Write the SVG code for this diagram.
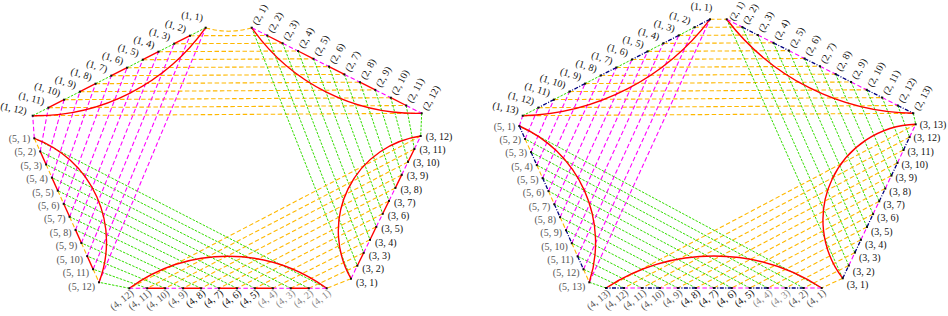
<svg xmlns="http://www.w3.org/2000/svg" width="948" height="316" viewBox="0 0 948 316">
<style>
.o{fill:none;stroke:#ffb800;stroke-width:1.1;stroke-dasharray:4.5 2.5}
.g{fill:none;stroke:#33dd00;stroke-width:1;stroke-dasharray:2.5 1.3}
.m{fill:none;stroke:#ff00ff;stroke-width:1.1;stroke-dasharray:4.5 2.5}
.r{fill:none;stroke:#ff0000;stroke-width:1.4}
.n{fill:none;stroke:#000080;stroke-width:1.3;stroke-dasharray:4 1.5 1 1.5}
text{font-family:"Liberation Serif","DejaVu Serif",serif;font-size:10px;fill:#111}
.e{text-anchor:end}
.gy{fill:#555}
.lg{fill:#8a8a8a}
</style>
<defs><rect id="p" x="-1" y="-1" width="2" height="2" fill="#111"/></defs>

<g id="left-figure">
<g id="left-connectors">
<path class="o" d="M205.7 27.7Q228.7 34.7 251.7 27.7M190.0 35.7L267.2 35.5M174.2 43.7L282.6 43.3M158.5 51.7L298.1 51.0M142.8 59.7L313.5 58.8M127.1 67.7L329.0 66.6M111.3 75.7L344.4 74.4M95.6 83.7L359.9 82.2M79.9 91.7L375.3 89.9M64.1 99.7L390.8 97.7M48.4 107.7L406.2 105.5M32.7 115.7L421.7 113.3"/>
<path class="g" d="M251.7 27.7L351.0 278.7M267.2 35.5L357.3 265.7M282.6 43.3L363.7 252.8M298.1 51.0L370.0 239.8M313.5 58.8L376.3 226.8M329.0 66.6L382.7 213.8M344.4 74.4L389.0 200.9M359.9 82.2L395.4 187.9M375.3 89.9L401.7 174.9M390.8 97.7L408.0 161.9M406.2 105.5L414.4 149.0M421.7 113.3L420.7 136.0"/>
<path class="o" d="M351.0 278.7L326.7 288.3M357.3 265.7L308.8 288.3M363.7 252.8L290.8 288.3M370.0 239.8L272.9 288.3M376.3 226.8L254.9 288.3M382.7 213.8L237.0 288.3M389.0 200.9L219.0 288.3M395.4 187.9L201.1 288.3M401.7 174.9L183.1 288.3M408.0 161.9L165.2 288.3M414.4 149.0L147.2 288.3M420.7 136.0L129.3 288.3"/>
<path class="g" d="M326.7 288.3L34.3 138.3M308.8 288.3L40.2 151.4M290.8 288.3L46.1 164.5M272.9 288.3L51.9 177.6M254.9 288.3L57.8 190.7M237.0 288.3L63.7 203.8M219.0 288.3L69.6 216.8M201.1 288.3L75.5 229.9M183.1 288.3L81.4 243.0M165.2 288.3L87.2 256.1M147.2 288.3L93.1 269.2M129.3 288.3L99.0 282.3"/>
<path class="m" d="M34.3 138.3L32.7 115.7M40.2 151.4L48.4 107.7M46.1 164.5L64.1 99.7M51.9 177.6L79.9 91.7M57.8 190.7L95.6 83.7M63.7 203.8L111.3 75.7M69.6 216.8L127.1 67.7M75.5 229.9L142.8 59.7M81.4 243.0L158.5 51.7M87.2 256.1L174.2 43.7M93.1 269.2L190.0 35.7M99.0 282.3L205.7 27.7"/>
<path class="r" d="M205.7 27.7A208.2 208.2 0 0 1 32.7 115.7"/>
<path class="r" d="M251.7 27.7A200.8 200.8 0 0 0 421.7 113.3"/>
<path class="r" d="M351.0 278.7A96 96 0 0 1 420.7 136.0"/>
<path class="r" d="M326.7 288.3A168.2 168.2 0 0 0 129.3 288.3"/>
<path class="r" d="M34.3 138.3A110.8 110.8 0 0 1 99.0 282.3"/>
</g>

<g id="left-side-1">
<path class="g" d="M205.7 27.7L190.0 35.7M174.2 43.7L158.5 51.7M142.8 59.7L127.1 67.7M111.3 75.7L95.6 83.7M79.9 91.7L64.1 99.7M48.4 107.7L32.7 115.7"/>
<path class="r" d="M190.0 35.7L174.2 43.7M158.5 51.7L142.8 59.7M127.1 67.7L111.3 75.7M95.6 83.7L79.9 91.7M64.1 99.7L48.4 107.7"/>
<use href="#p" x="205.7" y="27.7"/><use href="#p" x="190.0" y="35.7"/><use href="#p" x="174.2" y="43.7"/><use href="#p" x="158.5" y="51.7"/><use href="#p" x="142.8" y="59.7"/><use href="#p" x="127.1" y="67.7"/><use href="#p" x="111.3" y="75.7"/><use href="#p" x="95.6" y="83.7"/><use href="#p" x="79.9" y="91.7"/><use href="#p" x="64.1" y="99.7"/><use href="#p" x="48.4" y="107.7"/><use href="#p" x="32.7" y="115.7"/>
<text class="e" x="202.5" y="21.0" transform="rotate(8 202.5 21.0)">(1, 1)</text>
<text class="e" x="185.0" y="32.7" transform="rotate(18 185.0 32.7)">(1, 2)</text>
<text class="e" x="169.2" y="40.7" transform="rotate(18 169.2 40.7)">(1, 3)</text>
<text class="e" x="153.5" y="48.7" transform="rotate(18 153.5 48.7)">(1, 4)</text>
<text class="e" x="137.8" y="56.7" transform="rotate(18 137.8 56.7)">(1, 5)</text>
<text class="e" x="122.1" y="64.7" transform="rotate(18 122.1 64.7)">(1, 6)</text>
<text class="e" x="106.3" y="72.7" transform="rotate(18 106.3 72.7)">(1, 7)</text>
<text class="e" x="90.6" y="80.7" transform="rotate(18 90.6 80.7)">(1, 8)</text>
<text class="e" x="74.9" y="88.7" transform="rotate(18 74.9 88.7)">(1, 9)</text>
<text class="e" x="59.1" y="96.7" transform="rotate(18 59.1 96.7)">(1, 10)</text>
<text class="e" x="43.4" y="104.7" transform="rotate(14 43.4 104.7)">(1, 11)</text>
<text class="e" x="26.0" y="114.5" transform="rotate(12 26.0 114.5)">(1, 12)</text>
</g>

<g id="left-side-2">
<path class="m" d="M251.7 27.7L267.2 35.5M282.6 43.3L298.1 51.0M313.5 58.8L329.0 66.6M344.4 74.4L359.9 82.2M375.3 89.9L390.8 97.7M406.2 105.5L421.7 113.3"/>
<path class="r" d="M267.2 35.5L282.6 43.3M298.1 51.0L313.5 58.8M329.0 66.6L344.4 74.4M359.9 82.2L375.3 89.9M390.8 97.7L406.2 105.5"/>
<use href="#p" x="251.7" y="27.7"/><use href="#p" x="267.2" y="35.5"/><use href="#p" x="282.6" y="43.3"/><use href="#p" x="298.1" y="51.0"/><use href="#p" x="313.5" y="58.8"/><use href="#p" x="329.0" y="66.6"/><use href="#p" x="344.4" y="74.4"/><use href="#p" x="359.9" y="82.2"/><use href="#p" x="375.3" y="89.9"/><use href="#p" x="390.8" y="97.7"/><use href="#p" x="406.2" y="105.5"/><use href="#p" x="421.7" y="113.3"/>
<text x="257.7" y="25.7" transform="rotate(-62 257.7 25.7)">(2, 1)</text>
<text x="273.2" y="33.5" transform="rotate(-62 273.2 33.5)">(2, 2)</text>
<text x="288.6" y="41.3" transform="rotate(-62 288.6 41.3)">(2, 3)</text>
<text x="304.1" y="49.0" transform="rotate(-62 304.1 49.0)">(2, 4)</text>
<text x="319.5" y="56.8" transform="rotate(-62 319.5 56.8)">(2, 5)</text>
<text x="335.0" y="64.6" transform="rotate(-62 335.0 64.6)">(2, 6)</text>
<text x="350.4" y="72.4" transform="rotate(-62 350.4 72.4)">(2, 7)</text>
<text x="365.9" y="80.2" transform="rotate(-62 365.9 80.2)">(2, 8)</text>
<text x="381.3" y="87.9" transform="rotate(-62 381.3 87.9)">(2, 9)</text>
<text x="396.8" y="95.7" transform="rotate(-62 396.8 95.7)">(2, 10)</text>
<text x="412.2" y="103.5" transform="rotate(-62 412.2 103.5)">(2, 11)</text>
<text x="427.7" y="111.3" transform="rotate(-62 427.7 111.3)">(2, 12)</text>
</g>

<g id="left-side-3">
<path class="m" d="M351.0 278.7L357.3 265.7M363.7 252.8L370.0 239.8M376.3 226.8L382.7 213.8M389.0 200.9L395.4 187.9M401.7 174.9L408.0 161.9M414.4 149.0L420.7 136.0"/>
<path class="r" d="M357.3 265.7L363.7 252.8M370.0 239.8L376.3 226.8M382.7 213.8L389.0 200.9M395.4 187.9L401.7 174.9M408.0 161.9L414.4 149.0"/>
<use href="#p" x="351.0" y="278.7"/><use href="#p" x="357.3" y="265.7"/><use href="#p" x="363.7" y="252.8"/><use href="#p" x="370.0" y="239.8"/><use href="#p" x="376.3" y="226.8"/><use href="#p" x="382.7" y="213.8"/><use href="#p" x="389.0" y="200.9"/><use href="#p" x="395.4" y="187.9"/><use href="#p" x="401.7" y="174.9"/><use href="#p" x="408.0" y="161.9"/><use href="#p" x="414.4" y="149.0"/><use href="#p" x="420.7" y="136.0"/>
<text x="356.0" y="285.5">(3, 1)</text>
<text x="362.3" y="272.2">(3, 2)</text>
<text x="368.7" y="259.0">(3, 3)</text>
<text x="375.0" y="245.7">(3, 4)</text>
<text x="381.3" y="232.4">(3, 5)</text>
<text x="387.7" y="219.1">(3, 6)</text>
<text x="394.0" y="205.9">(3, 7)</text>
<text x="400.4" y="192.6">(3, 8)</text>
<text x="406.7" y="179.3">(3, 9)</text>
<text x="413.0" y="166.0">(3, 10)</text>
<text x="419.4" y="152.8">(3, 11)</text>
<text x="425.7" y="139.5">(3, 12)</text>
</g>

<g id="left-side-4">
<path class="m" d="M326.7 288.3L308.8 288.3M290.8 288.3L272.9 288.3M254.9 288.3L237.0 288.3M219.0 288.3L201.1 288.3M183.1 288.3L165.2 288.3M147.2 288.3L129.3 288.3"/>
<path class="r" d="M308.8 288.3L290.8 288.3M272.9 288.3L254.9 288.3M237.0 288.3L219.0 288.3M201.1 288.3L183.1 288.3M165.2 288.3L147.2 288.3"/>
<use href="#p" x="326.7" y="288.3"/><use href="#p" x="308.8" y="288.3"/><use href="#p" x="290.8" y="288.3"/><use href="#p" x="272.9" y="288.3"/><use href="#p" x="254.9" y="288.3"/><use href="#p" x="237.0" y="288.3"/><use href="#p" x="219.0" y="288.3"/><use href="#p" x="201.1" y="288.3"/><use href="#p" x="183.1" y="288.3"/><use href="#p" x="165.2" y="288.3"/><use href="#p" x="147.2" y="288.3"/><use href="#p" x="129.3" y="288.3"/>
<text class="e lg" x="331.7" y="294.3" transform="rotate(-38 331.7 294.3)">(4, 1)</text>
<text class="e lg" x="313.8" y="294.3" transform="rotate(-38 313.8 294.3)">(4, 2)</text>
<text class="e lg" x="295.8" y="294.3" transform="rotate(-38 295.8 294.3)">(4, 3)</text>
<text class="e lg" x="277.9" y="294.3" transform="rotate(-38 277.9 294.3)">(4, 4)</text>
<text class="e" x="259.9" y="294.3" transform="rotate(-38 259.9 294.3)">(4, 5)</text>
<text class="e" x="242.0" y="294.3" transform="rotate(-38 242.0 294.3)">(4, 6)</text>
<text class="e" x="224.0" y="294.3" transform="rotate(-38 224.0 294.3)">(4, 7)</text>
<text class="e" x="206.1" y="294.3" transform="rotate(-38 206.1 294.3)">(4, 8)</text>
<text class="e gy" x="188.1" y="294.3" transform="rotate(-38 188.1 294.3)">(4, 9)</text>
<text class="e gy" x="170.2" y="294.3" transform="rotate(-38 170.2 294.3)">(4, 10)</text>
<text class="e gy" x="152.2" y="294.3" transform="rotate(-38 152.2 294.3)">(4, 11)</text>
<text class="e gy" x="134.3" y="294.3" transform="rotate(-38 134.3 294.3)">(4, 12)</text>
</g>

<g id="left-side-5">
<path class="o" d="M34.3 138.3L40.2 151.4M46.1 164.5L51.9 177.6M57.8 190.7L63.7 203.8M69.6 216.8L75.5 229.9M81.4 243.0L87.2 256.1M93.1 269.2L99.0 282.3"/>
<path class="r" d="M40.2 151.4L46.1 164.5M51.9 177.6L57.8 190.7M63.7 203.8L69.6 216.8M75.5 229.9L81.4 243.0M87.2 256.1L93.1 269.2"/>
<use href="#p" x="34.3" y="138.3"/><use href="#p" x="40.2" y="151.4"/><use href="#p" x="46.1" y="164.5"/><use href="#p" x="51.9" y="177.6"/><use href="#p" x="57.8" y="190.7"/><use href="#p" x="63.7" y="203.8"/><use href="#p" x="69.6" y="216.8"/><use href="#p" x="75.5" y="229.9"/><use href="#p" x="81.4" y="243.0"/><use href="#p" x="87.2" y="256.1"/><use href="#p" x="93.1" y="269.2"/><use href="#p" x="99.0" y="282.3"/>
<text class="e gy" x="30.3" y="141.8">(5, 1)</text>
<text class="e gy" x="36.2" y="155.3">(5, 2)</text>
<text class="e gy" x="42.1" y="168.7">(5, 3)</text>
<text class="e gy" x="47.9" y="182.2">(5, 4)</text>
<text class="e gy" x="53.8" y="195.6">(5, 5)</text>
<text class="e gy" x="59.7" y="209.1">(5, 6)</text>
<text class="e gy" x="65.6" y="222.4">(5, 7)</text>
<text class="e gy" x="71.5" y="235.9">(5, 8)</text>
<text class="e gy" x="77.4" y="249.3">(5, 9)</text>
<text class="e gy" x="83.2" y="262.8">(5, 10)</text>
<text class="e gy" x="89.1" y="276.2">(5, 11)</text>
<text class="e gy" x="95.0" y="289.6">(5, 12)</text>
</g>
</g>

<g id="right-figure">
<g id="right-connectors">
<path class="o" d="M710.0 19.3L726.7 19.3M694.4 27.3L742.3 27.1M678.8 35.4L757.8 35.0M663.2 43.4L773.4 42.8M647.6 51.4L788.9 50.6M632.0 59.5L804.5 58.5M616.4 67.5L820.0 66.3M600.7 75.5L835.6 74.1M585.1 83.6L851.1 82.0M569.5 91.6L866.7 89.8M553.9 99.6L882.2 97.6M538.3 107.7L897.8 105.5M522.7 115.7L913.3 113.3"/>
<path class="g" d="M726.7 19.3L842.7 278.3M742.3 27.1L848.8 265.5M757.8 35.0L854.9 252.6M773.4 42.8L860.9 239.8M788.9 50.6L867.0 227.0M804.5 58.5L873.1 214.1M820.0 66.3L879.2 201.3M835.6 74.1L885.3 188.5M851.1 82.0L891.4 175.6M866.7 89.8L897.5 162.8M882.2 97.6L903.5 150.0M897.8 105.5L909.6 137.1M913.3 113.3L915.7 124.3"/>
<path class="o" d="M842.7 278.3L821.7 288M848.8 265.5L803.7 288M854.9 252.6L785.8 288M860.9 239.8L767.8 288M867.0 227.0L749.8 288M873.1 214.1L731.8 288M879.2 201.3L713.9 288M885.3 188.5L695.9 288M891.4 175.6L677.9 288M897.5 162.8L659.9 288M903.5 150.0L641.9 288M909.6 137.1L624.0 288M915.7 124.3L606.0 288"/>
<path class="g" d="M821.7 288L519.3 126.0M803.7 288L525.1 139.0M785.8 288L531.0 152.1M767.8 288L536.8 165.1M749.8 288L542.6 178.1M731.8 288L548.5 191.1M713.9 288L554.3 204.2M695.9 288L560.1 217.2M677.9 288L566.0 230.2M659.9 288L571.8 243.2M641.9 288L577.6 256.3M624.0 288L583.5 269.3M606.0 288L589.3 282.3"/>
<path class="m" d="M519.3 126.0L522.7 115.7M525.1 139.0L538.3 107.7M531.0 152.1L553.9 99.6M536.8 165.1L569.5 91.6M542.6 178.1L585.1 83.6M548.5 191.1L600.7 75.5M554.3 204.2L616.4 67.5M560.1 217.2L632.0 59.5M566.0 230.2L647.6 51.4M571.8 243.2L663.2 43.4M577.6 256.3L678.8 35.4M583.5 269.3L694.4 27.3M589.3 282.3L710.0 19.3"/>
<path class="r" d="M710.0 19.3A243 243 0 0 1 522.7 115.7"/>
<path class="r" d="M726.7 19.3A239.5 239.5 0 0 0 913.3 113.3"/>
<path class="r" d="M842.7 278.3A95.8 95.8 0 0 1 915.7 124.3"/>
<path class="r" d="M821.7 288A197.8 197.8 0 0 0 606.0 288"/>
<path class="r" d="M519.3 126.0A127.5 127.5 0 0 1 589.3 282.3"/>
</g>

<g id="right-side-1">
<path class="n" d="M710.0 19.3L694.4 27.3M678.8 35.4L663.2 43.4M647.6 51.4L632.0 59.5M616.4 67.5L600.7 75.5M585.1 83.6L569.5 91.6M553.9 99.6L538.3 107.7"/>
<path class="g" d="M694.4 27.3L678.8 35.4M663.2 43.4L647.6 51.4M632.0 59.5L616.4 67.5M600.7 75.5L585.1 83.6M569.5 91.6L553.9 99.6M538.3 107.7L522.7 115.7"/>
<use href="#p" x="710.0" y="19.3"/><use href="#p" x="694.4" y="27.3"/><use href="#p" x="678.8" y="35.4"/><use href="#p" x="663.2" y="43.4"/><use href="#p" x="647.6" y="51.4"/><use href="#p" x="632.0" y="59.5"/><use href="#p" x="616.4" y="67.5"/><use href="#p" x="600.7" y="75.5"/><use href="#p" x="585.1" y="83.6"/><use href="#p" x="569.5" y="91.6"/><use href="#p" x="553.9" y="99.6"/><use href="#p" x="538.3" y="107.7"/><use href="#p" x="522.7" y="115.7"/>
<text class="e" x="712.0" y="11.0" transform="rotate(5 712.0 11.0)">(1, 1)</text>
<text class="e" x="689.4" y="24.3" transform="rotate(18 689.4 24.3)">(1, 2)</text>
<text class="e" x="673.8" y="32.4" transform="rotate(18 673.8 32.4)">(1, 3)</text>
<text class="e" x="658.2" y="40.4" transform="rotate(18 658.2 40.4)">(1, 4)</text>
<text class="e" x="642.6" y="48.4" transform="rotate(18 642.6 48.4)">(1, 5)</text>
<text class="e" x="627.0" y="56.5" transform="rotate(18 627.0 56.5)">(1, 6)</text>
<text class="e" x="611.4" y="64.5" transform="rotate(18 611.4 64.5)">(1, 7)</text>
<text class="e" x="595.7" y="72.5" transform="rotate(18 595.7 72.5)">(1, 8)</text>
<text class="e" x="580.1" y="80.6" transform="rotate(18 580.1 80.6)">(1, 9)</text>
<text class="e" x="564.5" y="88.6" transform="rotate(18 564.5 88.6)">(1, 10)</text>
<text class="e" x="548.9" y="96.6" transform="rotate(18 548.9 96.6)">(1, 11)</text>
<text class="e" x="533.3" y="104.7" transform="rotate(15 533.3 104.7)">(1, 12)</text>
<text class="e" x="518.0" y="114.0" transform="rotate(12 518.0 114.0)">(1, 13)</text>
</g>

<g id="right-side-2">
<path class="m" d="M726.7 19.3L742.3 27.1M757.8 35.0L773.4 42.8M788.9 50.6L804.5 58.5M820.0 66.3L835.6 74.1M851.1 82.0L866.7 89.8M882.2 97.6L897.8 105.5"/>
<path class="n" d="M742.3 27.1L757.8 35.0M773.4 42.8L788.9 50.6M804.5 58.5L820.0 66.3M835.6 74.1L851.1 82.0M866.7 89.8L882.2 97.6M897.8 105.5L913.3 113.3"/>
<use href="#p" x="726.7" y="19.3"/><use href="#p" x="742.3" y="27.1"/><use href="#p" x="757.8" y="35.0"/><use href="#p" x="773.4" y="42.8"/><use href="#p" x="788.9" y="50.6"/><use href="#p" x="804.5" y="58.5"/><use href="#p" x="820.0" y="66.3"/><use href="#p" x="835.6" y="74.1"/><use href="#p" x="851.1" y="82.0"/><use href="#p" x="866.7" y="89.8"/><use href="#p" x="882.2" y="97.6"/><use href="#p" x="897.8" y="105.5"/><use href="#p" x="913.3" y="113.3"/>
<text style="font-size:9.5px" x="734.0" y="21.5" transform="rotate(-58 734.0 21.5)">(2, 1)</text>
<text x="748.3" y="25.1" transform="rotate(-62 748.3 25.1)">(2, 2)</text>
<text x="763.8" y="33.0" transform="rotate(-62 763.8 33.0)">(2, 3)</text>
<text x="779.4" y="40.8" transform="rotate(-62 779.4 40.8)">(2, 4)</text>
<text x="794.9" y="48.6" transform="rotate(-62 794.9 48.6)">(2, 5)</text>
<text x="810.5" y="56.5" transform="rotate(-62 810.5 56.5)">(2, 6)</text>
<text x="826.0" y="64.3" transform="rotate(-62 826.0 64.3)">(2, 7)</text>
<text x="841.6" y="72.1" transform="rotate(-62 841.6 72.1)">(2, 8)</text>
<text x="857.1" y="80.0" transform="rotate(-62 857.1 80.0)">(2, 9)</text>
<text x="872.7" y="87.8" transform="rotate(-62 872.7 87.8)">(2, 10)</text>
<text x="888.2" y="95.6" transform="rotate(-62 888.2 95.6)">(2, 11)</text>
<text x="903.8" y="103.5" transform="rotate(-62 903.8 103.5)">(2, 12)</text>
<text x="919.3" y="111.3" transform="rotate(-62 919.3 111.3)">(2, 13)</text>
</g>

<g id="right-side-3">
<path class="n" d="M842.7 278.3L848.8 265.5M854.9 252.6L860.9 239.8M867.0 227.0L873.1 214.1M879.2 201.3L885.3 188.5M891.4 175.6L897.5 162.8M903.5 150.0L909.6 137.1"/>
<path class="m" d="M848.8 265.5L854.9 252.6M860.9 239.8L867.0 227.0M873.1 214.1L879.2 201.3M885.3 188.5L891.4 175.6M897.5 162.8L903.5 150.0M909.6 137.1L915.7 124.3"/>
<use href="#p" x="842.7" y="278.3"/><use href="#p" x="848.8" y="265.5"/><use href="#p" x="854.9" y="252.6"/><use href="#p" x="860.9" y="239.8"/><use href="#p" x="867.0" y="227.0"/><use href="#p" x="873.1" y="214.1"/><use href="#p" x="879.2" y="201.3"/><use href="#p" x="885.3" y="188.5"/><use href="#p" x="891.4" y="175.6"/><use href="#p" x="897.5" y="162.8"/><use href="#p" x="903.5" y="150.0"/><use href="#p" x="909.6" y="137.1"/><use href="#p" x="915.7" y="124.3"/>
<text x="846.7" y="287.8">(3, 1)</text>
<text x="852.8" y="274.5">(3, 2)</text>
<text x="858.9" y="261.1">(3, 3)</text>
<text x="864.9" y="247.8">(3, 4)</text>
<text x="871.0" y="234.5">(3, 5)</text>
<text x="877.1" y="221.1">(3, 6)</text>
<text x="883.2" y="207.8">(3, 7)</text>
<text x="889.3" y="194.5">(3, 8)</text>
<text x="895.4" y="181.1">(3, 9)</text>
<text x="901.5" y="167.8">(3, 10)</text>
<text x="907.5" y="154.5">(3, 11)</text>
<text x="913.6" y="141.1">(3, 12)</text>
<text x="919.7" y="127.8">(3, 13)</text>
</g>

<g id="right-side-4">
<path class="m" d="M821.7 288L803.7 288M785.8 288L767.8 288M749.8 288L731.8 288M713.9 288L695.9 288M677.9 288L659.9 288M641.9 288L624.0 288"/>
<path class="n" d="M803.7 288L785.8 288M767.8 288L749.8 288M731.8 288L713.9 288M695.9 288L677.9 288M659.9 288L641.9 288M624.0 288L606.0 288"/>
<use href="#p" x="821.7" y="288"/><use href="#p" x="803.7" y="288"/><use href="#p" x="785.8" y="288"/><use href="#p" x="767.8" y="288"/><use href="#p" x="749.8" y="288"/><use href="#p" x="731.8" y="288"/><use href="#p" x="713.9" y="288"/><use href="#p" x="695.9" y="288"/><use href="#p" x="677.9" y="288"/><use href="#p" x="659.9" y="288"/><use href="#p" x="641.9" y="288"/><use href="#p" x="624.0" y="288"/><use href="#p" x="606.0" y="288"/>
<text class="e gy" x="826.7" y="294" transform="rotate(-38 826.7 294)">(4, 1)</text>
<text class="e gy" x="808.7" y="294" transform="rotate(-38 808.7 294)">(4, 2)</text>
<text class="e lg" x="790.8" y="294" transform="rotate(-38 790.8 294)">(4, 3)</text>
<text class="e lg" x="772.8" y="294" transform="rotate(-38 772.8 294)">(4, 4)</text>
<text class="e" x="754.8" y="294" transform="rotate(-38 754.8 294)">(4, 5)</text>
<text class="e" x="736.8" y="294" transform="rotate(-38 736.8 294)">(4, 6)</text>
<text class="e" x="718.9" y="294" transform="rotate(-38 718.9 294)">(4, 7)</text>
<text class="e" x="700.9" y="294" transform="rotate(-38 700.9 294)">(4, 8)</text>
<text class="e gy" x="682.9" y="294" transform="rotate(-38 682.9 294)">(4, 9)</text>
<text class="e gy" x="664.9" y="294" transform="rotate(-38 664.9 294)">(4, 10)</text>
<text class="e gy" x="646.9" y="294" transform="rotate(-38 646.9 294)">(4, 11)</text>
<text class="e gy" x="629.0" y="294" transform="rotate(-38 629.0 294)">(4, 12)</text>
<text class="e gy" x="611.0" y="294" transform="rotate(-38 611.0 294)">(4, 13)</text>
</g>

<g id="right-side-5">
<path class="n" d="M519.3 126.0L525.1 139.0M531.0 152.1L536.8 165.1M542.6 178.1L548.5 191.1M554.3 204.2L560.1 217.2M566.0 230.2L571.8 243.2M577.6 256.3L583.5 269.3"/>
<path class="o" d="M525.1 139.0L531.0 152.1M536.8 165.1L542.6 178.1M548.5 191.1L554.3 204.2M560.1 217.2L566.0 230.2M571.8 243.2L577.6 256.3M583.5 269.3L589.3 282.3"/>
<use href="#p" x="519.3" y="126.0"/><use href="#p" x="525.1" y="139.0"/><use href="#p" x="531.0" y="152.1"/><use href="#p" x="536.8" y="165.1"/><use href="#p" x="542.6" y="178.1"/><use href="#p" x="548.5" y="191.1"/><use href="#p" x="554.3" y="204.2"/><use href="#p" x="560.1" y="217.2"/><use href="#p" x="566.0" y="230.2"/><use href="#p" x="571.8" y="243.2"/><use href="#p" x="577.6" y="256.3"/><use href="#p" x="583.5" y="269.3"/><use href="#p" x="589.3" y="282.3"/>
<text class="e gy" x="515.3" y="129.5">(5, 1)</text>
<text class="e gy" x="521.1" y="142.8">(5, 2)</text>
<text class="e gy" x="527.0" y="156.3">(5, 3)</text>
<text class="e gy" x="532.8" y="169.6">(5, 4)</text>
<text class="e gy" x="538.6" y="183.0">(5, 5)</text>
<text class="e gy" x="544.5" y="196.3">(5, 6)</text>
<text class="e gy" x="550.3" y="209.7">(5, 7)</text>
<text class="e gy" x="556.1" y="223.0">(5, 8)</text>
<text class="e gy" x="562.0" y="236.3">(5, 9)</text>
<text class="e gy" x="567.8" y="249.6">(5, 10)</text>
<text class="e gy" x="573.6" y="263.0">(5, 11)</text>
<text class="e gy" x="579.5" y="276.4">(5, 12)</text>
<text class="e gy" x="585.3" y="289.8">(5, 13)</text>
</g>
</g>
</svg>
